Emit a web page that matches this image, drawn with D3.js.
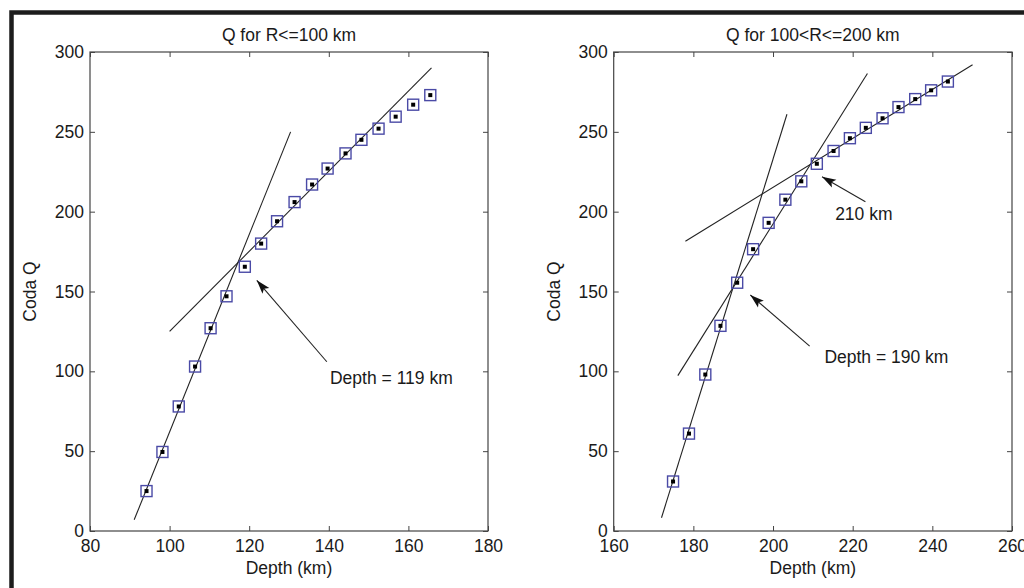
<!DOCTYPE html>
<html>
<head>
    <meta charset="utf-8" />
    <title>Coda Q vs depth</title>
    <style>
    body { margin: 0; background: #fff; }
    svg { display: block; font-family: "Liberation Sans", Arial, sans-serif; }
    .tick text { font-size: 17.5px; fill: #1a1a1a; }
    .tick line { stroke: #444; }
    .domain { stroke: none; }
    .lbl { font-size: 17.5px; fill: #1a1a1a; }
    </style>
</head>
<body>
<svg id="chart" width="1024" height="588"></svg>
<script src="https://d3js.org/d3.v7.min.js"></script>
<script>
    // panel 1: R <= 100 km
    var leftDepth = [94.2, 98.2, 102.3, 106.4, 110.3, 114.3, 118.9, 123, 127, 131.4, 135.8, 139.7, 144.2, 148.2, 152.5, 156.8, 161.2, 165.5];
    var leftQ     = [25, 49.5, 78, 103, 127, 147, 165.5, 180, 194, 206, 217, 227, 236.5, 245, 252, 259.5, 267, 273];
    // fitted lines [x1, q1, x2, q2]
    var leftFits = [[91.1, 7, 130.4, 250], [100, 125, 165.8, 290]];

    // panel 2: 100 < R <= 200 km
    var rightDepth = [174.9, 178.9, 183, 186.8, 191, 195, 198.9, 203.1, 207.1, 211, 215.2, 219.3, 223.3, 227.5, 231.5, 235.7, 239.7, 243.9];
    var rightQ     = [31, 61, 98, 128.5, 155.5, 176.5, 193, 207.5, 219, 230, 238, 246, 252.5, 258.5, 265.5, 270.5, 276, 281.5];
    var rightFits = [[172, 8.3, 203.5, 261], [176.1, 97.3, 223.7, 286.5], [178, 181.5, 250.1, 292]];

    // annotations: label, label x/q, arrow tail x/q, arrow head x/q
    var leftNotes  = [["Depth = 119 km", 140.3, 96, 139.5, 106, 121.9, 157]];
    var rightNotes = [["210 km", 215.6, 199, 223.2, 206.2, 212.3, 221.9],
                      ["Depth = 190 km", 212.9, 109, 209.2, 115.8, 194.3, 147.8]];

    var titles = ["Q for R<=100 km", "Q for 100<R<=200 km"];
    var yTicks = [0, 50, 100, 150, 200, 250, 300];
    var leftXTicks = [80, 100, 120, 140, 160, 180];
    var rightXTicks = [160, 180, 200, 220, 240, 260];

    var svg = d3.select("#chart");

    // outer frame of the figure (only top and left edges show)
    svg.append("rect")
        .attr("x", 11.5).attr("y", 12.5)
        .attr("width", 1100).attr("height", 700)
        .attr("fill", "none")
        .attr("stroke", "#1c1c1c")
        .attr("stroke-width", 4.5);

    var defs = svg.append("defs");
    defs.append("marker")
        .attr("id", "head")
        .attr("viewBox", "0 -5 14 10")
        .attr("refX", 14).attr("refY", 0)
        .attr("markerWidth", 14).attr("markerHeight", 10)
        .attr("markerUnits", "userSpaceOnUse")
        .attr("orient", "auto")
      .append("path")
        .attr("d", "M0,-4.5L14,0L0,4.5L3,0Z")
        .attr("fill", "#111");

    function panel(x0, x1, xDomain, xTicks, title, depth, q, fits, notes) {
        var x = d3.scaleLinear().domain(xDomain).range([x0, x1]);
        var y = d3.scaleLinear().domain([0, 300]).range([531, 52]);
        var g = svg.append("g");

        // box
        g.append("rect")
            .attr("x", x0).attr("y", 52)
            .attr("width", x1 - x0).attr("height", 531 - 52)
            .attr("fill", "none")
            .attr("stroke", "#444")
            .attr("stroke-width", 1.2);

        // ticks pointing inward on all sides
        g.append("g").attr("transform", "translate(0,531)")
            .call(d3.axisBottom(x).tickValues(xTicks).tickSize(-5).tickSizeOuter(0).tickPadding(9));
        g.append("g").attr("transform", "translate(0,52)")
            .call(d3.axisTop(x).tickValues(xTicks).tickSize(-5).tickSizeOuter(0).tickFormat(""));
        g.append("g").attr("transform", "translate(" + x0 + ",0)")
            .call(d3.axisLeft(y).tickValues(yTicks).tickSize(-5).tickSizeOuter(0).tickPadding(6));
        g.append("g").attr("transform", "translate(" + x1 + ",0)")
            .call(d3.axisRight(y).tickValues(yTicks).tickSize(-5).tickSizeOuter(0).tickFormat(""));

        var cx = (x0 + x1) / 2;
        g.append("text").attr("class", "lbl")
            .attr("x", cx).attr("y", 41)
            .attr("text-anchor", "middle")
            .text(title);
        g.append("text").attr("class", "lbl")
            .attr("x", cx).attr("y", 574)
            .attr("text-anchor", "middle")
            .text("Depth (km)");
        g.append("text").attr("class", "lbl")
            .attr("transform", "translate(" + (x0 - 54) + ",291.5) rotate(-90)")
            .attr("text-anchor", "middle")
            .text("Coda Q");

        // fits
        g.selectAll(".fit").data(fits).enter().append("line")
            .attr("x1", function(d) { return x(d[0]); })
            .attr("y1", function(d) { return y(d[1]); })
            .attr("x2", function(d) { return x(d[2]); })
            .attr("y2", function(d) { return y(d[3]); })
            .attr("stroke", "#222")
            .attr("stroke-width", 1.1);

        // data points: blue square with black dot
        var pts = depth.map(function(d, i) { return [d, q[i]]; });
        g.selectAll(".sq").data(pts).enter().append("rect")
            .attr("x", function(d) { return x(d[0]) - 5.5; })
            .attr("y", function(d) { return y(d[1]) - 5.5; })
            .attr("width", 11).attr("height", 11)
            .attr("fill", "none")
            .attr("stroke", "#4a4aa6")
            .attr("stroke-width", 1.4);
        g.selectAll(".dot").data(pts).enter().append("rect")
            .attr("x", function(d) { return x(d[0]) - 2; })
            .attr("y", function(d) { return y(d[1]) - 2; })
            .attr("width", 4).attr("height", 4)
            .attr("fill", "#000");

        // annotations
        notes.forEach(function(n) {
            g.append("line")
                .attr("x1", x(n[3])).attr("y1", y(n[4]))
                .attr("x2", x(n[5])).attr("y2", y(n[6]))
                .attr("stroke", "#222")
                .attr("stroke-width", 1.1)
                .attr("marker-end", "url(#head)");
            g.append("text").attr("class", "lbl")
                .attr("x", x(n[1])).attr("y", y(n[2]))
                .attr("dy", "0.36em")
                .text(n[0]);
        });
    }

    panel(90, 488, [80, 180], leftXTicks, titles[0], leftDepth, leftQ, leftFits, leftNotes);
    panel(613.7, 1012, [160, 260], rightXTicks, titles[1], rightDepth, rightQ, rightFits, rightNotes);
</script>
</body>
</html>
